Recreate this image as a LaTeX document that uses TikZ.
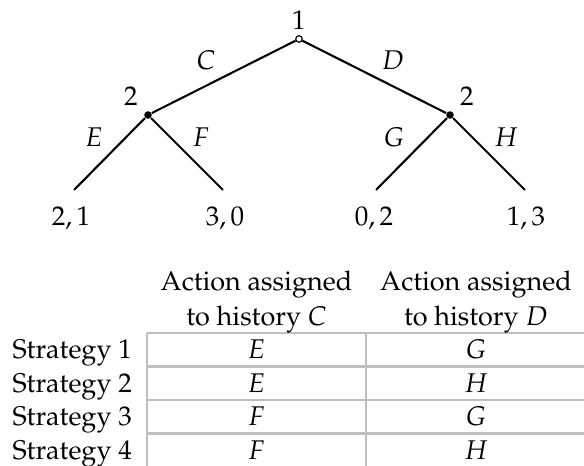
\documentclass[tikz,border=0pt]{standalone}
\usepackage[T1]{fontenc}
\usepackage{mathpazo}
\begin{document}
\begin{tikzpicture}[x=0.3846pt,y=-0.3846pt,
  treeline/.style={line width=0.8pt,black},
  gridline/.style={line width=0.95pt,black!25},
  opendot/.style={circle,draw=black,fill=white,line width=0.45pt,inner sep=0pt,minimum size=2.5pt},
  fulldot/.style={circle,fill=black,inner sep=0pt,minimum size=2.9pt},
  lbl/.style={anchor=base,inner sep=0pt,font=\fontsize{10.4}{12}\selectfont},
  rowlbl/.style={anchor=base west,inner sep=0pt,font=\fontsize{10.4}{12}\selectfont}]
\useasboundingbox (0,0) rectangle (584,466);
% tree
\node[opendot] (r) at (299,39) {};
\node[fulldot] (a) at (148,115) {};
\node[fulldot] (b) at (450,115) {};
\coordinate (l1) at (74,190);
\coordinate (l2) at (223,190);
\coordinate (l3) at (376,190);
\coordinate (l4) at (525,190);
\draw[treeline] (r) -- (a);
\draw[treeline] (r) -- (b);
\draw[treeline] (a) -- (l1);
\draw[treeline] (a) -- (l2);
\draw[treeline] (b) -- (l3);
\draw[treeline] (b) -- (l4);
\node[lbl] (p1) at (299,30) {1};
\node[lbl] (p2a) at (131,106) {2};
\node[lbl] (p2b) at (467,106) {2};
\node[lbl] (eC) at (206,70) {$C$};
\node[lbl] (eD) at (393,70) {$D$};
\node[lbl] (eE) at (94,147) {$E$};
\node[lbl] (eF) at (201,147) {$F$};
\node[lbl] (eG) at (394,147) {$G$};
\node[lbl] (eH) at (506,147) {$H$};
\node[lbl] (o1) at (71,226) {$2,1$};
\node[lbl] (o2) at (225,226) {$3,0$};
\node[lbl] (o3) at (374,226) {$0,2$};
\node[lbl] (o4) at (526,226) {$1,3$};
% table
\foreach \yy in {333,366.5,400,433.5} \draw[gridline] (147,\yy) -- (586,\yy);
\draw[gridline] (147,333) -- (147,467);
\draw[gridline] (366,333) -- (366,467);
\node[lbl] (h1a) at (256.5,291) {Action assigned};
\node[lbl] (h1b) at (256.5,326) {to history $C$};
\node[lbl] (h2a) at (476,291) {Action assigned};
\node[lbl] (h2b) at (476,326) {to history $D$};
\node[rowlbl] (s1) at (12,359) {Strategy 1};
\node[rowlbl] (s2) at (12,392.5) {Strategy 2};
\node[rowlbl] (s3) at (12,426) {Strategy 3};
\node[rowlbl] (s4) at (12,459.5) {Strategy 4};
\node[lbl] (c11) at (256.5,359) {$E$};
\node[lbl] (c12) at (476,359) {$G$};
\node[lbl] (c21) at (256.5,392.5) {$E$};
\node[lbl] (c22) at (476,392.5) {$H$};
\node[lbl] (c31) at (256.5,426) {$F$};
\node[lbl] (c32) at (476,426) {$G$};
\node[lbl] (c41) at (256.5,459.5) {$F$};
\node[lbl] (c42) at (476,459.5) {$H$};
\end{tikzpicture}
\end{document}
